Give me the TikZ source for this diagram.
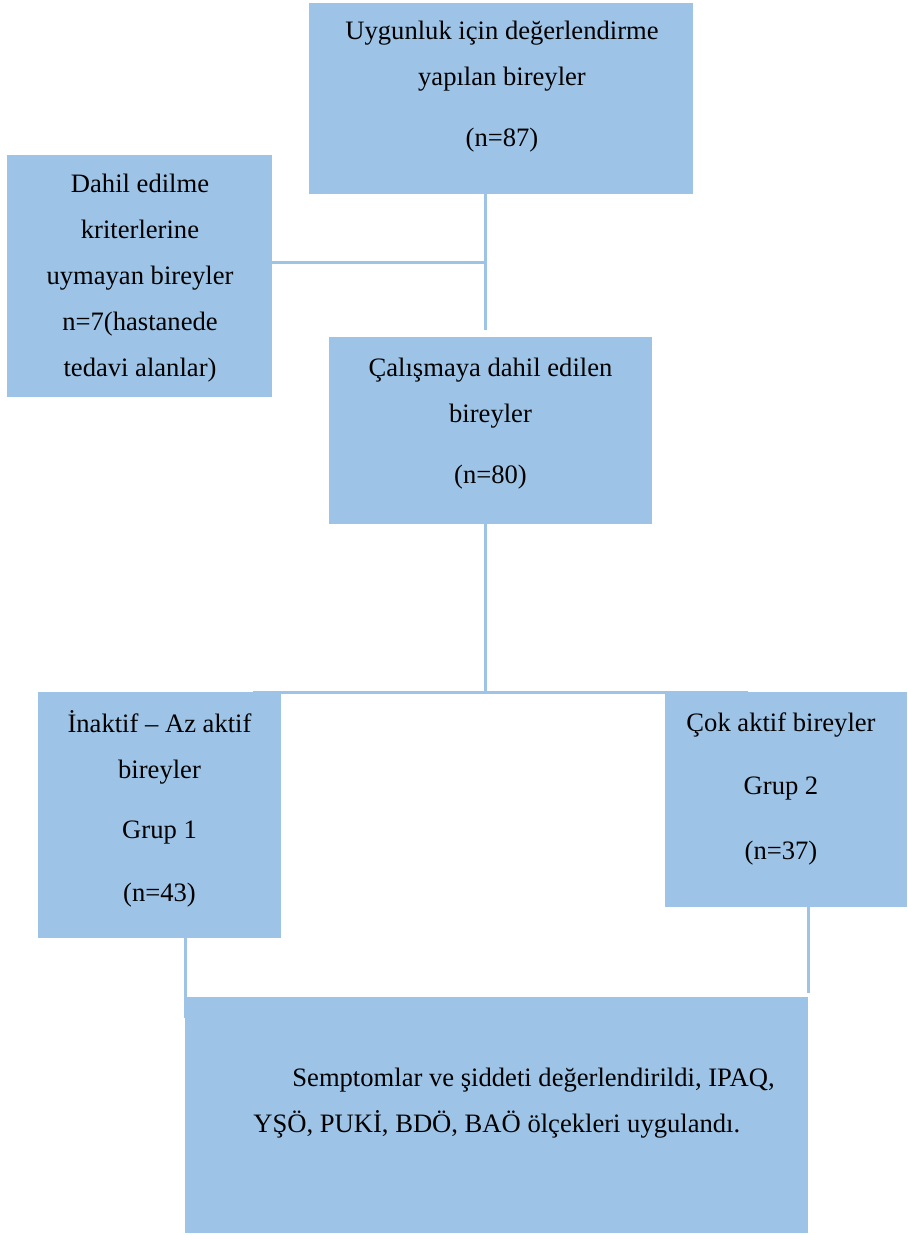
\documentclass[tikz,border=0pt]{standalone}
\usepackage{fontspec}
\setmainfont{Liberation Serif}
\usepackage{tikz}
\usetikzlibrary{positioning}

\definecolor{kutumavi}{HTML}{9DC3E6}

\begin{document}
\begin{tikzpicture}[x=0.5pt,y=-0.5pt,
        kutu/.style={fill=kutumavi,draw=none,inner sep=0pt,outer sep=0pt},
        yazi/.style={anchor=base,align=center,inner sep=0pt,
            font=\fontsize{13.3}{23}\selectfont},
        cizgi/.style={draw=kutumavi,line width=1.5pt}]

  \useasboundingbox (0,0) rectangle (908,1235);

  \node[kutu,minimum width=192pt,minimum height=95.5pt] (uygun) at (501,98.5) {};
  \node[kutu,minimum width=132.5pt,minimum height=121pt] (dislanan) at (139.5,276) {};
  \node[kutu,minimum width=161.5pt,minimum height=93.5pt] (dahil) at (490.5,430.5) {};
  \node[kutu,minimum width=121.5pt,minimum height=123pt] (grup1) at (159.5,815) {};
  \node[kutu,minimum width=121pt,minimum height=107.5pt] (grup2) at (786,799.5) {};
  \node[kutu,minimum width=311.5pt,minimum height=118pt] (olcek) at (496.5,1115) {};

  % yazilar (anchor=base: son satirin tabani)
  \node[yazi] (uygunyazi) at (502,147) {Uygunluk için değerlendirme\\yapılan bireyler\\[7.5pt](n=87)};
  \node[yazi] (dislananyazi) at (140,376) {Dahil edilme\\kriterlerine\\uymayan bireyler\\n=7(hastanede\\tedavi alanlar)};
  \node[yazi] (dahilyazi) at (490.5,483) {Çalışmaya dahil edilen\\bireyler\\[7.5pt](n=80)};
  \node[yazi] (grup1yazi) at (159.5,901) {İnaktif – Az aktif\\bireyler\\[7pt]Grup 1\\[8.5pt](n=43)};
  \node[yazi] (grup2yazi) at (781,859) {Çok aktif bireyler\\[8.5pt]Grup 2\\[9.5pt](n=37)};
  \node[yazi,anchor=base west,align=left] (olcekyazi) at (253,1132)
      {\hspace*{19.5pt}Semptomlar ve şiddeti değerlendirildi, IPAQ,\\YŞÖ, PUKİ, BDÖ, BAÖ ölçekleri uygulandı.};

  % baglantilar
  \coordinate (k1) at (485,263);
  \coordinate (k2) at (485,330);
  \coordinate (k3) at (485,692);
  \coordinate (s1) at (253,692);
  \coordinate (s2) at (748,692);
  \coordinate (g1) at (185,1018);
  \coordinate (g2) at (808,993);

  \path[cizgi] (uygun.south -| k1) -- (k2)
               (dislanan.east |- k1) -- (k1)
               (dahil.south -| k3) -- (k3)
               (s1) -- (s2)
               (grup1.south -| g1) -- (g1)
               (grup2.south -| g2) -- (g2);

\end{tikzpicture}
\end{document}
